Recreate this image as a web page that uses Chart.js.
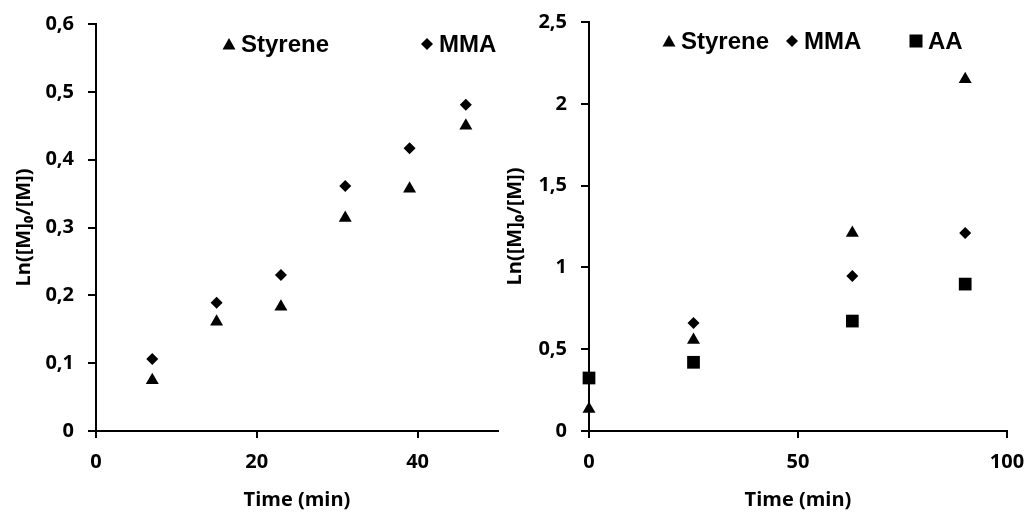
<!DOCTYPE html>
<html>
<head>
<meta charset="utf-8">
<script src="https://cdn.jsdelivr.net/npm/chart.js@4.4.1/dist/chart.umd.min.js"></script>
<style>
  body { margin: 0; background: #fff; }
  .panel { position: absolute; top: 0; height: 514px; }
  #leftPanel { left: 0; width: 500px; }
  #rightPanel { left: 500px; width: 527px; }
</style>
</head>
<body>
<div class="panel" id="leftPanel"><canvas id="leftChart"></canvas></div>
<div class="panel" id="rightPanel"><canvas id="rightChart"></canvas></div>
<script>
// Left panel: two monomers, time 0..50 min
const leftTime = [7, 15, 23, 31, 39, 46];
const leftStyrene = [0.075, 0.161, 0.183, 0.314, 0.357, 0.45];
const leftMMA = [0.106, 0.189, 0.230, 0.361, 0.417, 0.481];

// Right panel: three monomers, time 0..100 min
const rightTimeStyrene = [0, 25, 63, 90];
const rightStyrene = [0.134, 0.556, 1.21, 2.15];
const rightTimeMMA = [25, 63, 90];
const rightMMA = [0.66, 0.947, 1.21];
const rightTimeAA = [0, 25, 63, 90];
const rightAA = [0.324, 0.42, 0.672, 0.898];

const xTitle = 'Time (min)';
const yTitle = 'Ln([M]\u2080/[M])';

const tickFont = { family: '"Open Sans", "Noto Sans", sans-serif', size: 20, weight: 'bold' };
const titleFont = { family: '"Open Sans", "Noto Sans", sans-serif', size: 20, weight: 'bold' };

const pts = (xs, ys) => xs.map((x, i) => ({ x: x, y: ys[i] }));
const comma = v => String(Math.round(v * 10) / 10).replace('.', ',');

// legend drawn inside the plot like the Excel original
function drawMarker(ctx, style, x, y) {
  ctx.beginPath();
  if (style === 'triangle') {
    ctx.moveTo(x, y - 6); ctx.lineTo(x + 6.5, y + 5.5); ctx.lineTo(x - 6.5, y + 5.5);
  } else if (style === 'rectRot') {
    ctx.moveTo(x, y - 6); ctx.lineTo(x + 6, y); ctx.lineTo(x, y + 6); ctx.lineTo(x - 6, y);
  } else {
    ctx.rect(x - 6.5, y - 6.5, 13, 13);
  }
  ctx.closePath();
  ctx.fill();
}

const cornerLegend = {
  id: 'cornerLegend',
  afterDraw(chart, args, opts) {
    const ctx = chart.ctx;
    ctx.save();
    ctx.fillStyle = '#000';
    ctx.font = 'bold 24px "Liberation Sans", Arial, sans-serif';
    ctx.textBaseline = 'middle';
    ctx.textAlign = 'left';
    chart.data.datasets.forEach((ds, i) => {
      const x = opts.xs[i];
      drawMarker(ctx, ds.pointStyle, x, opts.y);
      ctx.fillText(ds.label, x + 12, opts.y + 1);
    });
    ctx.restore();
  }
};

function makeOptions(xMax, xStep, yMax, yStep, yWidth, titlePad, pad, legendXs, legendY) {
  return {
    responsive: true,
    maintainAspectRatio: false,
    animation: false,
    layout: { padding: pad, autoPadding: false },
    plugins: {
      legend: { display: false },
      tooltip: { enabled: false },
      cornerLegend: { xs: legendXs, y: legendY }
    },
    scales: {
      x: {
        type: 'linear',
        min: 0, max: xMax,
        afterFit: s => { s.height = 83; s.paddingLeft = 0; s.paddingRight = 0; },
        ticks: { stepSize: xStep, includeBounds: false, color: '#000', font: tickFont, padding: 12, maxRotation: 0 },
        grid: { drawOnChartArea: false, drawTicks: true, tickLength: 7, color: '#000', lineWidth: 2 },
        border: { color: '#000', width: 2 },
        title: { display: true, text: xTitle, color: '#000', font: titleFont, padding: { top: 0, bottom: 2 } }
      },
      y: {
        min: 0, max: yMax,
        afterFit: s => { s.width = yWidth; s.paddingTop = 0; s.paddingBottom = 0; },
        ticks: { stepSize: yStep, color: '#000', font: tickFont, padding: 14, callback: comma },
        grid: { drawOnChartArea: false, drawTicks: true, tickLength: 8, color: '#000', lineWidth: 2 },
        border: { color: '#000', width: 2 },
        title: { display: true, text: yTitle, color: '#000', font: titleFont, padding: { top: titlePad, bottom: 0 } }
      }
    }
  };
}

const baseSet = { backgroundColor: '#000', borderColor: '#000', borderWidth: 0, showLine: false, clip: false };

new Chart(document.getElementById('leftChart'), {
  type: 'scatter',
  data: {
    datasets: [
      Object.assign({}, baseSet, { label: 'Styrene', data: pts(leftTime, leftStyrene), pointStyle: 'triangle', pointRadius: 7.5 }),
      Object.assign({}, baseSet, { label: 'MMA', data: pts(leftTime, leftMMA), pointStyle: 'rectRot', pointRadius: 6 })
    ]
  },
  options: makeOptions(50, 20, 0.6, 0.1, 96, 12, { left: 0, right: 2, top: 24, bottom: 0 }, [229, 427], 44),
  plugins: [cornerLegend]
});

new Chart(document.getElementById('rightChart'), {
  type: 'scatter',
  data: {
    datasets: [
      Object.assign({}, baseSet, { label: 'Styrene', data: pts(rightTimeStyrene, rightStyrene), pointStyle: 'triangle', pointRadius: 7.5 }),
      Object.assign({}, baseSet, { label: 'MMA', data: pts(rightTimeMMA, rightMMA), pointStyle: 'rectRot', pointRadius: 6 }),
      Object.assign({}, baseSet, { label: 'AA', data: pts(rightTimeAA, rightAA), pointStyle: 'rect', pointRadius: 9 })
    ]
  },
  options: makeOptions(100, 50, 2.5, 0.5, 89, 3, { left: 0, right: 20, top: 22, bottom: 0 }, [169, 292, 416], 41),
  plugins: [cornerLegend]
});
</script>
</body>
</html>
